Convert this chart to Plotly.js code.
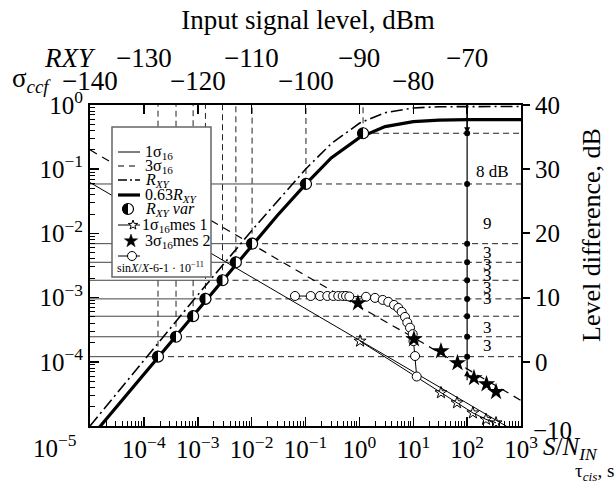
<!DOCTYPE html>
<html><head><meta charset="utf-8">
<script src="https://cdn.plot.ly/plotly-3.0.1.min.js"></script>
<style>body{margin:0;background:#fff}#chart{width:616px;height:499px}</style>
</head><body><div id="chart"></div>
<script>
// ---------------- data ----------------
const xCurve = [1e-5, 1e-4, 1e-3, 1e-2, 3e-2, 0.1, 0.3, 1, 3, 10, 30, 100, 1000];
const rxy    = [1e-5, 1.05e-4, 1.1e-3, 0.011, 0.032, 0.1, 0.25, 0.52, 0.76, 0.9, 0.94, 0.95, 0.95];
const rxy063 = [6.4e-6, 6.4e-5, 6.5e-4, 6.6e-3, 0.019, 0.058, 0.15, 0.31, 0.46, 0.55, 0.58, 0.59, 0.59];

const xSigma = [1e-5, 1e-4, 1e-3, 1e-2, 0.1, 1, 10, 100, 1000];
const sigma1 = [0.062, 0.020, 6.4e-3, 2.1e-3, 6.8e-4, 2.2e-4, 7.0e-5, 2.3e-5, 7.3e-6];
const sigma3 = [0.2, 0.064, 0.021, 0.0068, 0.0022, 7.2e-4, 2.4e-4, 7.8e-5, 2.5e-5];

const xVar    = [1.83e-4, 3.95e-4, 8.2e-4, 1.39e-3, 2.88e-3, 5.1e-3, 1.02e-2, 0.102, 1.17];
const levelDb = [0.8, 3.9, 7.1, 9.8, 12.7, 15.5, 18.4, 27.7, 35.6];
const hasLeftLine = [true, true, true, true, true, true, true, true, false];

const xMes1 = [1.03, 32.7, 64.9, 128, 224, 344];
const yMes1 = [2.1e-4, 3.3e-5, 2.3e-5, 1.6e-5, 1.27e-5, 1.12e-5];

const xMes2 = [0.94, 10.3, 32.7, 66.2, 134, 229, 344];
const yMes2 = [8.2e-4, 2.26e-4, 1.47e-4, 9.6e-5, 5.6e-5, 4.5e-5, 3.4e-5];

const xSinc = [0.0638, 0.125, 0.186, 0.254, 0.328, 0.406, 0.49, 0.565, 0.65, 1.33, 1.95, 2.71, 3.44, 4.4, 5.28, 6.1, 7.03, 7.75, 8.7, 9.77, 10.1, 10.8, 11.6];
const ySinc = [1.06e-3, 1.06e-3, 1.06e-3, 1.06e-3, 1.06e-3, 1.06e-3, 1.06e-3, 1.06e-3, 1.04e-3, 1.03e-3, 9.9e-4, 9.2e-4, 8.6e-4, 7.7e-4, 6.9e-4, 6.0e-4, 5.0e-4, 4.1e-4, 3.4e-4, 2.7e-4, 2.1e-4, 1.23e-4, 5.9e-5];

const diffX = 100;                 // S/N of the vertical level-difference scale
const diffLineDb = [39.5, -1.3];   // extent of the vertical scale line (dB)
const diffTailDb = -3.1;
const stepLabels = ['8 dB', '9', '3', '3', '3', '3', '3', '3', '3'];
const stepLabelDb = [29.6, 21.6, 16.95, 15.2, 13.4, 11.5, 9.8, 5.4, 2.5];

const bottomTicks = [1e-4, 1e-3, 1e-2, 1e-1, 1, 10, 100, 1000];
const bottomTickText = ['10<sup>−4</sup>', '10<sup>−3</sup>', '10<sup>−2</sup>', '10<sup>−1</sup>', '10<sup>0</sup>', '10<sup>1</sup>', '10<sup>2</sup>', '10<sup>3</sup>'];
const leftTicks = [1e-4, 1e-3, 1e-2, 1e-1, 1];
const leftTickText = ['10<sup>−4</sup>', '10<sup>−3</sup>', '10<sup>−2</sup>', '10<sup>−1</sup>', '10<sup>0</sup>'];
const rightTicks = [0, 10, 20, 30, 40];
const topRxyX = [1e-4, 1e-2, 1, 100];
const topRxyText = ['−130', '−110', '−90', '−70'];
const topCcfX = [1e-5, 1e-3, 1e-1, 10];
const topCcfText = ['−140', '−120', '−100', '−80'];

// ---------------- layout helpers ----------------
const FONT = '"Liberation Serif", "Times New Roman", Times, serif';
const W = 616, H = 499;
const PL = 90, PR = 521, PT = 105, PB = 426;
const px2x = p => (p - PL) / (PR - PL);
const py2y = p => (PB - p) / (PB - PT);
const dbToY = d => Math.pow(10, (d - 40) / 10);
const yVar = levelDb.map(dbToY);
const XMIN = 1e-5, XMAX = 1e3, YMAX = 1;

function minorVals(lo, hi) {
  const v = [];
  for (let e = lo; e < hi; e++) for (let k = 2; k <= 9; k++) v.push(k * Math.pow(10, e));
  return v;
}
function starPath(R) {
  const r = R * 0.4; let d = '';
  for (let k = 0; k < 10; k++) {
    const a = Math.PI / 2 + k * Math.PI / 5, rr = k % 2 ? r : R;
    d += (k ? 'L' : 'M') + (rr * Math.cos(a)).toFixed(2) + ',' + (rr * Math.sin(a)).toFixed(2);
  }
  return d + 'Z';
}
function leftHalfPath(R) {
  let d = '';
  for (let k = 0; k <= 12; k++) {
    const a = Math.PI / 2 + k * Math.PI / 12;
    d += (k ? 'L' : 'M') + (R * Math.cos(a)).toFixed(2) + ',' + (R * Math.sin(a)).toFixed(2);
  }
  return d + 'Z';
}

// ---------------- guide lines built from marker arrays ----------------
const gsX = [], gsY = [], gdX = [], gdY = [], gvX = [], gvY = [];
xVar.forEach((xv, i) => {
  const yv = yVar[i];
  if (hasLeftLine[i]) { gsX.push(XMIN, xv, null); gsY.push(yv, yv, null); }
  gdX.push(xv, XMAX, null); gdY.push(yv, yv, null);
  gvX.push(xv, xv, null); gvY.push(yv, YMAX, null);
});

const traces = [
  {x: gsX, y: gsY, mode: 'lines', line: {color: '#444', width: 1}},
  {x: gdX, y: gdY, mode: 'lines', line: {color: '#222', width: 1, dash: '6px,4px'}},
  {x: gvX, y: gvY, mode: 'lines', line: {color: '#222', width: 1, dash: '6px,4px'}},
  {x: xSigma, y: sigma1, mode: 'lines', line: {color: 'black', width: 1}},
  {x: xSigma, y: sigma3, mode: 'lines', line: {color: 'black', width: 1.2, dash: '8px,6px'}},
  {x: xCurve, y: rxy, mode: 'lines', line: {color: 'black', width: 1.6, dash: '12px,4px,2px,4px'}},
  {x: xCurve, y: rxy063, mode: 'lines', line: {color: 'black', width: 3.2}},
  {x: xMes1, y: yMes1, mode: 'lines+markers', line: {color: 'black', width: 1},
   marker: {symbol: 'star-open', size: 9, color: 'black', line: {width: 1}}},
  {x: xSinc, y: ySinc, mode: 'lines+markers', line: {color: 'black', width: 1},
   marker: {symbol: 'circle', size: 9, color: 'white', line: {color: 'black', width: 1}}},
  {x: xMes2, y: yMes2, mode: 'markers', marker: {symbol: 'star', size: 13, color: 'black'}},
  {x: xVar, y: yVar, mode: 'markers', marker: {symbol: 'circle', size: 11, color: 'white', line: {color: 'black', width: 1.2}}},
  {x: [diffX, diffX], y: diffLineDb, yaxis: 'y2', mode: 'lines', line: {color: 'black', width: 1.2}},
  {x: levelDb.map(() => diffX), y: levelDb, yaxis: 'y2', mode: 'markers', marker: {size: 6, color: 'black'}}
];

// ---------------- shapes ----------------
const shapes = [];
xVar.forEach((xv, i) => shapes.push({
  type: 'path', xref: 'x', yref: 'y', xsizemode: 'pixel', ysizemode: 'pixel',
  xanchor: xv, yanchor: yVar[i], path: leftHalfPath(5.5), fillcolor: 'black', line: {width: 0}, layer: 'above'
}));
// legend box
shapes.push({type: 'rect', xref: 'paper', yref: 'paper', x0: px2x(112), x1: px2x(211), y0: py2y(277), y1: py2y(127),
  fillcolor: 'white', line: {color: '#666', width: 1.5}, layer: 'above'});
const legLine = (py, style) => shapes.push(Object.assign({type: 'line', xref: 'paper', yref: 'paper',
  x0: px2x(118), x1: px2x(140), y0: py2y(py), y1: py2y(py), layer: 'above'}, style));
legLine(152, {line: {color: 'black', width: 1}});
legLine(166, {line: {color: 'black', width: 1.2, dash: '6px,5px'}});
legLine(180, {line: {color: 'black', width: 1.6, dash: '9px,3px,2px,3px'}});
legLine(195, {line: {color: 'black', width: 3.2}});
legLine(225, {line: {color: 'black', width: 1}});
legLine(256, {line: {color: 'black', width: 1}});
const pixShape = (px, py, extra) => shapes.push(Object.assign({xref: 'paper', yref: 'paper', xsizemode: 'pixel', ysizemode: 'pixel',
  xanchor: px2x(px), yanchor: py2y(py), layer: 'above'}, extra));
pixShape(128, 209, {type: 'circle', x0: -5.5, x1: 5.5, y0: -5.5, y1: 5.5, fillcolor: 'white', line: {color: 'black', width: 1.2}});
pixShape(128, 209, {type: 'path', path: leftHalfPath(5.5), fillcolor: 'black', line: {width: 0}});
pixShape(133, 225, {type: 'path', path: starPath(5), fillcolor: 'white', line: {color: 'black', width: 1}});
pixShape(131, 241, {type: 'path', path: starPath(7), fillcolor: 'black', line: {color: 'black', width: 0.5}});
pixShape(132, 256, {type: 'circle', x0: -4.5, x1: 4.5, y0: -4.5, y1: 4.5, fillcolor: 'white', line: {color: 'black', width: 1}});

// ---------------- annotations ----------------
const ann = [];
const txt = (px, py, text, size, extra) => ann.push(Object.assign({xref: 'paper', yref: 'paper', x: px2x(px), y: py2y(py),
  text: text, showarrow: false, xanchor: 'left', yanchor: 'middle', font: {family: FONT, size: size, color: 'black'}}, extra || {}));
// legend texts
txt(143, 152, '1σ<sub>16</sub>', 16);
txt(143, 166, '3σ<sub>16</sub>', 16);
txt(143, 180, '<i>R</i><sub><i>XY</i></sub>', 16);
txt(143, 195, '0.63<i>R</i><sub><i>XY</i></sub>', 16);
txt(143, 209, '<i>R</i><sub><i>XY</i></sub> <i>var</i>', 16);
txt(140, 225, '1σ<sub>16</sub>mes 1', 16);
txt(143, 241, '3σ<sub>16</sub>mes 2', 16);
txt(115, 267, 'sin<i>X</i>/<i>X</i>-6-1 · 10<sup>−11</sup>', 12);
// top scale rows
txt(70, 58, '<i>RXY</i>', 27, {xanchor: 'center'});
txt(31, 80, 'σ<sub><i>ccf</i></sub>', 27, {xanchor: 'center'});
topRxyX.forEach((v, i) => ann.push({xref: 'x', yref: 'paper', x: Math.log10(v), y: py2y(58), text: topRxyText[i],
  showarrow: false, xanchor: 'center', yanchor: 'middle', font: {family: FONT, size: 27, color: 'black'}}));
topCcfX.forEach((v, i) => ann.push({xref: 'x', yref: 'paper', x: Math.log10(v), y: py2y(81), text: topCcfText[i],
  showarrow: false, xanchor: 'center', yanchor: 'middle', font: {family: FONT, size: 27, color: 'black'}}));
// corner labels
txt(55, 446, '10<sup>−5</sup>', 25, {xanchor: 'center'});
txt(531, 431, '−10', 25);
txt(541, 449, '<i>S</i>/<i>N</i><sub><i>IN</i></sub>', 25);
txt(573, 472, 'τ<sub><i>cis</i></sub>, s', 19);
// right axis title
ann.push({xref: 'paper', yref: 'paper', x: px2x(591), y: py2y(235), text: 'Level difference, dB', textangle: -90,
  showarrow: false, xanchor: 'center', yanchor: 'middle', font: {family: FONT, size: 26, color: 'black'}});
// level-difference step labels
stepLabels.forEach((t, i) => ann.push({xref: 'paper', yref: 'y2', x: px2x(i === 0 ? 474 : 481), y: stepLabelDb[i], text: t,
  showarrow: false, xanchor: 'left', yanchor: 'middle', font: {family: FONT, size: 17, color: 'black'}}));
// arrows on the vertical scale
ann.push({xref: 'x', yref: 'y2', axref: 'x', ayref: 'y2', x: Math.log10(diffX), y: levelDb[levelDb.length - 1],
  ax: Math.log10(diffX), ay: diffLineDb[0], text: '', showarrow: true, arrowhead: 2, arrowsize: 1, arrowwidth: 1.2, arrowcolor: 'black'});
ann.push({xref: 'x', yref: 'y2', axref: 'x', ayref: 'y2', x: Math.log10(diffX), y: diffLineDb[1],
  ax: Math.log10(diffX), ay: diffTailDb, text: '', showarrow: true, arrowhead: 2, arrowsize: 1, arrowwidth: 1.2, arrowcolor: 'black'});

const axFont = {family: FONT, size: 25, color: 'black'};
const layout = {
  width: W, height: H,
  margin: {l: PL, r: W - PR, t: PT, b: H - PB, pad: 0},
  paper_bgcolor: 'white', plot_bgcolor: 'white',
  showlegend: false, hovermode: false,
  font: {family: FONT, color: 'black'},
  title: {text: 'Input signal level, dBm', font: {family: FONT, size: 27, color: 'black'},
    xref: 'container', yref: 'container', x: 0.5, y: 1 - 20 / H, xanchor: 'center', yanchor: 'middle'},
  xaxis: {type: 'log', range: [-5, 3], tickmode: 'array', tickvals: bottomTicks, ticktext: bottomTickText,
    ticks: 'inside', ticklen: 9, tickwidth: 1.5, tickcolor: 'black', showgrid: false, zeroline: false,
    showline: true, linecolor: 'black', linewidth: 2, mirror: true, tickfont: axFont,
    minor: {tickmode: 'array', tickvals: minorVals(-5, 3), ticks: 'inside', ticklen: 5, tickwidth: 1, tickcolor: 'black', showgrid: false}},
  xaxis2: {type: 'log', range: [-5, 3], overlaying: 'x', side: 'top', anchor: 'y', tickmode: 'array',
    tickvals: [1e-4, 1e-3, 1e-2, 1e-1, 1, 10, 100], ticks: 'inside', ticklen: 9, tickwidth: 1.5, tickcolor: 'black',
    showticklabels: false, showgrid: false, zeroline: false, showline: false},
  yaxis: {type: 'log', range: [-5, 0], tickmode: 'array', tickvals: leftTicks, ticktext: leftTickText,
    ticks: 'inside', ticklen: 9, tickwidth: 1.5, tickcolor: 'black', showgrid: false, zeroline: false,
    showline: true, linecolor: 'black', linewidth: 2, mirror: true, tickfont: axFont,
    minor: {tickmode: 'array', tickvals: minorVals(-5, 0), ticks: 'inside', ticklen: 5, tickwidth: 1, tickcolor: 'black', showgrid: false}},
  yaxis2: {range: [-10, 40], overlaying: 'y', side: 'right', anchor: 'x', tickmode: 'array', tickvals: rightTicks,
    ticks: 'outside', ticklen: 8, tickwidth: 2, tickcolor: 'black', showgrid: false, zeroline: false, showline: false,
    tickfont: axFont},
  shapes: shapes,
  annotations: ann
};
traces.push({x: [1], y: [1], xaxis: 'x2', mode: 'markers', marker: {opacity: 0}, hoverinfo: 'skip'});
Plotly.newPlot('chart', traces, layout, {staticPlot: true, displayModeBar: false});
</script></body></html>
